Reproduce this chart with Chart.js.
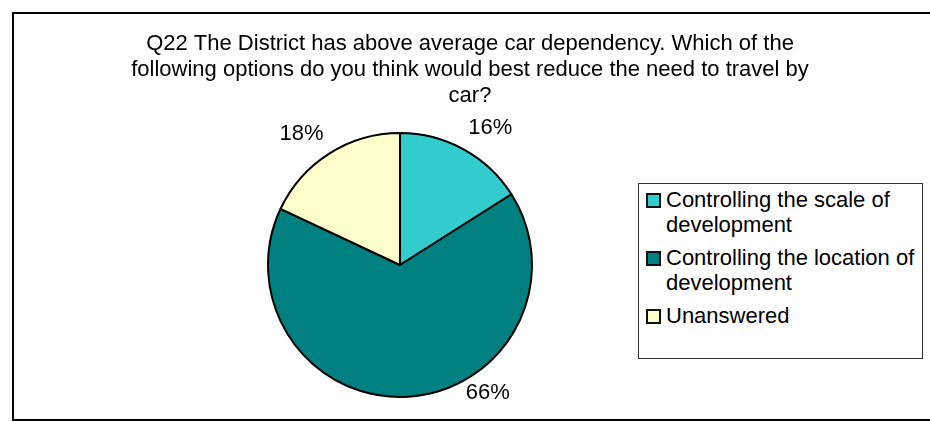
<!DOCTYPE html>
<html>
<head>
<meta charset="utf-8">
<script src="https://cdn.jsdelivr.net/npm/chart.js@4"></script>
<style>
  html, body { margin: 0; padding: 0; background: #fff; overflow: hidden; }
  #frame {
    position: absolute; left: 12px; top: 12px; width: 940px; height: 409px;
    box-sizing: border-box; border: 2px solid #000;
  }
  #chartWrap { position: absolute; left: 0; top: 0; width: 930px; height: 421px; }
  #legend {
    position: absolute; left: 638px; top: 183px; width: 285px; height: 176px;
    box-sizing: border-box; border: 1px solid #333; background: #fff;
    padding: 3px 0 0 7px;
    font-family: Arial, "Liberation Sans", sans-serif; font-size: 22px; line-height: 25px; color: #000;
  }
  .item { display: flex; align-items: flex-start; margin-bottom: 8px; }
  .box { width: 15px; height: 15px; box-sizing: border-box; border: 2px solid #111; margin-top: 6px; margin-right: 5px; flex: none; }
  .txt { width: 255px; }
</style>
</head>
<body>
<div id="frame"></div>
<div id="chartWrap"><canvas id="pieChart" width="930" height="421"></canvas></div>
<div id="legend"></div>
<script>
const titleLines = [
  "Q22 The District has above average car dependency. Which of the",
  "following options do you think would best reduce the need to travel by",
  "car?"
];
const categories = [
  "Controlling the scale of development",
  "Controlling the location of development",
  "Unanswered"
];
const values = [16, 66, 18];
const colors = ["#33CCCC", "#008080", "#FFFFCC"];

const font = 'Arial, "Liberation Sans", sans-serif';

// where along each slice (fraction of its angle) and how far out its label sits
const labelSpots = [
  { f: 0.58, gap: 32 },
  { f: 0.37, gap: 23 },
  { f: 0.43, gap: 32 }
];

const titlePlugin = {
  id: "titleText",
  afterDraw(chart) {
    const ctx = chart.ctx;
    ctx.save();
    ctx.fillStyle = "#000";
    ctx.font = "22px " + font;
    ctx.textAlign = "center";
    ctx.textBaseline = "alphabetic";
    titleLines.forEach((line, i) => ctx.fillText(line, 470, 50 + i * 26));
    ctx.restore();
  }
};

const percentPlugin = {
  id: "percentLabels",
  afterDatasetsDraw(chart) {
    const ctx = chart.ctx;
    const arcs = chart.getDatasetMeta(0).data;
    ctx.save();
    ctx.fillStyle = "#000";
    ctx.font = "22px " + font;
    ctx.textAlign = "center";
    ctx.textBaseline = "middle";
    arcs.forEach((arc, i) => {
      const spot = labelSpots[i];
      const a = arc.startAngle + spot.f * (arc.endAngle - arc.startAngle);
      const r = arc.outerRadius + spot.gap;
      ctx.fillText(values[i] + "%", arc.x + Math.cos(a) * r, arc.y + Math.sin(a) * r);
    });
    ctx.restore();
  }
};

new Chart(document.getElementById("pieChart").getContext("2d"), {
  type: "pie",
  data: {
    labels: categories,
    datasets: [{
      data: values,
      backgroundColor: colors,
      borderColor: "#000",
      borderWidth: 2
    }]
  },
  options: {
    responsive: false,
    devicePixelRatio: 1,
    animation: false,
    layout: { padding: { left: 267, right: 397, top: 132, bottom: 23 } },
    plugins: {
      legend: { display: false },
      title: { display: false },
      tooltip: { enabled: false }
    }
  },
  plugins: [titlePlugin, percentPlugin]
});

const legend = document.getElementById("legend");
categories.forEach((name, i) => {
  const item = document.createElement("div");
  item.className = "item";
  const box = document.createElement("div");
  box.className = "box";
  box.style.background = colors[i];
  const txt = document.createElement("div");
  txt.className = "txt";
  txt.textContent = name;
  item.appendChild(box);
  item.appendChild(txt);
  legend.appendChild(item);
});
</script>
</body>
</html>
